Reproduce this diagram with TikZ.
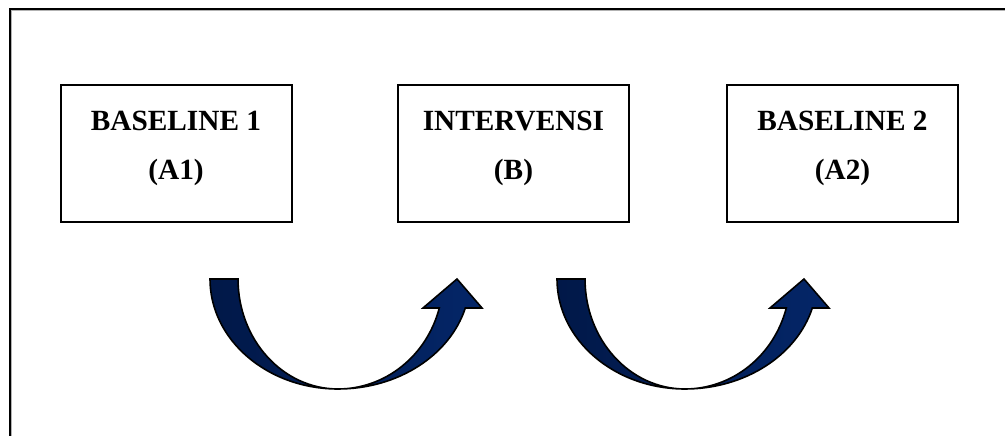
\documentclass[tikz,border=0pt]{standalone}
\usepackage{fontspec}
\setmainfont{Liberation Serif}
\definecolor{navyL}{RGB}{1,24,72}
\definecolor{navyR}{RGB}{4,38,104}
\begin{document}
\begin{tikzpicture}[x=1pt,y=1pt,
  box/.style={draw=black, line width=2pt, minimum width=231pt, minimum height=137pt, inner sep=0pt, fill=white},
  lbl/.style={anchor=base, font=\fontsize{29.3}{34}\selectfont\bfseries, inner sep=0pt},
  arrowfill/.style={draw=black, line width=1.6pt, line join=miter, left color=navyL, right color=navyR},
  uarrow/.pic={
    \path[arrowfill] (-128,0)
      arc[start angle=180, end angle=270, x radius=128, y radius=110]
      arc[start angle=270, end angle=344.71, x radius=132, y radius=110]
      -- (144,-29) -- (119,0) -- (85,-29) -- (101.3,-29)
      arc[start angle=344.71, end angle=270, x radius=105, y radius=110]
      arc[start angle=270, end angle=180, x radius=100, y radius=110]
      -- cycle;
  }]
\useasboundingbox (0,0) rectangle (1005,436);

% page frame (runs off the right and bottom edges)
\draw[black, line width=2.6pt] (10,-10) |- (1015,427);
\draw[gray!60, line width=1pt] (11.8,-10) |- (1015,425.2);

% phase boxes
\node[box] (b1) at (176,282) {};
\node[box] (b2) at (513.5,282) {};
\node[box] (b3) at (842.5,282) {};

\node[lbl] (b1a) at ([yshift=23.3]b1.center) {BASELINE 1};
\node[lbl] (b1b) at ([yshift=-25.3]b1.center) {(A1)};
\node[lbl] (b2a) at ([yshift=23.3]b2.center) {INTERVENSI};
\node[lbl] (b2b) at ([yshift=-25.3]b2.center) {(B)};
\node[lbl] (b3a) at ([yshift=23.3]b3.center) {BASELINE 2};
\node[lbl] (b3b) at ([yshift=-25.3]b3.center) {(A2)};

% curved transition arrows
\pic at (338,157) {uarrow};
\pic at (685,157) {uarrow};
\end{tikzpicture}
\end{document}
